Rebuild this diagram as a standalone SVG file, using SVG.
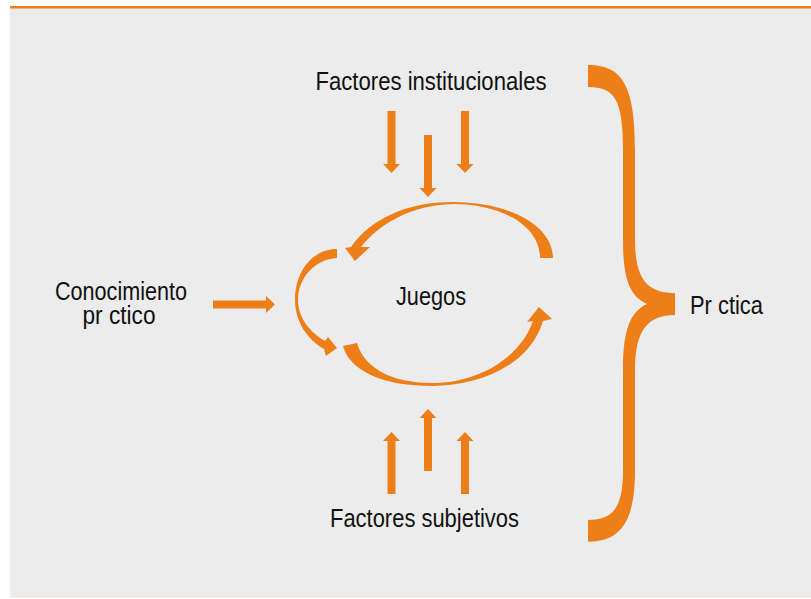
<svg xmlns="http://www.w3.org/2000/svg" width="811" height="599" viewBox="0 0 811 599">
<style>
.lbl{font-family:"Liberation Sans Narrow","Arial Narrow","Liberation Sans",sans-serif;font-size:26px;fill:#111;text-anchor:middle}
.or{fill:#ee7f18}
</style>
<defs>
<path id="arr" d="M0,-4 H53 V-8.5 L62,0 L53,8.5 V4 H0 Z"/>
</defs>
<rect x="0" y="0" width="811" height="599" fill="#ffffff"/>
<rect x="10" y="8" width="801" height="589" fill="#ebeceb"/>
<rect x="10" y="6" width="801" height="2.5" fill="#ee7f18"/>
<line x1="10" y1="597" x2="811" y2="597" stroke="#f0e2d8" stroke-width="1"/>
<g id="connectors" class="or">
<use href="#arr" transform="translate(391.5,111) rotate(90)"/>
<use href="#arr" transform="translate(428,135) rotate(90)"/>
<use href="#arr" transform="translate(465,111) rotate(90)"/>
<use href="#arr" transform="translate(391.5,494) rotate(-90)"/>
<use href="#arr" transform="translate(428,471) rotate(-90)"/>
<use href="#arr" transform="translate(465,494) rotate(-90)"/>
<use href="#arr" transform="translate(213,304.5)"/>
<path d="M553,258 C553,226 510,202 453,202 C405,202 370,220 351,247 L345,248 L355,261 L370,247 L361,247 C378,225 410,205 453,204 C500,204 540,225 540,258 Z"/>
<path d="M337,249 C312,249 295,272 295,300 C295,322 308,340 324,349 L326,356 L337,348 L328,337 L325,341 C310,332 298,318 298,300 C298,278 315,259 337,258 Z"/>
<path d="M343,346 C350,372 385,386 432,386 C480,386 530,365 543,321 L552,319 L539,307 L527,322 L533,321 C520,358 478,383 432,383 C395,383 365,370 357,343 Z"/>
</g>
<g id="brace" class="or">
<path d="M588,65 C622,65 635,85 635,150 L635,240 C635,280 648,293 675,293 L675,315 C648,315 635,330 635,370 L635,470 C635,520 622,541.7 588,541.7 L588,520 C615,520 623,505 623,470 L623,370 C623,330 630,312 647,304 C630,296 623,280 623,240 L623,150 C623,100 615,87 588,87 Z"/>
</g>
<g id="node-institucionales"><text class="lbl" x="431" y="90" textLength="231" lengthAdjust="spacingAndGlyphs">Factores institucionales</text></g>
<g id="node-juegos"><text class="lbl" x="431" y="305" textLength="70" lengthAdjust="spacingAndGlyphs">Juegos</text></g>
<g id="node-conocimiento"><text class="lbl" x="121" y="299.5" textLength="132" lengthAdjust="spacingAndGlyphs">Conocimiento</text><text class="lbl" x="119" y="324" textLength="73" lengthAdjust="spacingAndGlyphs">pr ctico</text></g>
<g id="node-practica"><text class="lbl" x="726.5" y="313.5" textLength="73" lengthAdjust="spacingAndGlyphs">Pr ctica</text></g>
<g id="node-subjetivos"><text class="lbl" x="424.5" y="527" textLength="189" lengthAdjust="spacingAndGlyphs">Factores subjetivos</text></g>
</svg>
